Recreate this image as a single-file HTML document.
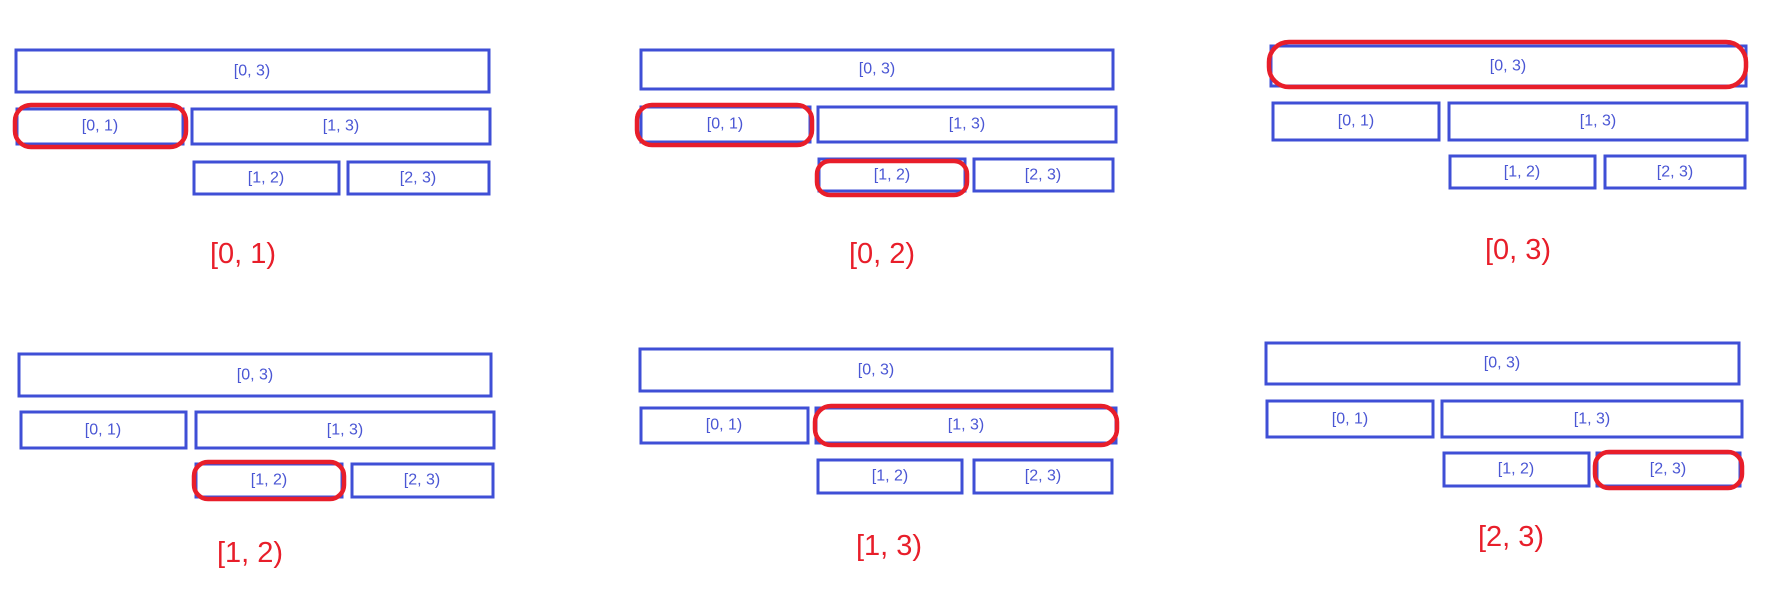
<!DOCTYPE html>
<html><head><meta charset="utf-8"><style>
html,body{margin:0;padding:0;background:#fff;}
svg{display:block;}
.b{fill:none;stroke:#3f4fd6;stroke-width:3;}
.r{fill:none;stroke:#e81e2a;stroke-width:4.5;}
.t{font-family:"Liberation Sans",sans-serif;font-size:16px;fill:#4a56d4;text-anchor:middle;dominant-baseline:central;}
.L{font-family:"Liberation Sans",sans-serif;font-size:29px;fill:#e81e2a;text-anchor:middle;dominant-baseline:central;}
</style></head><body>
<svg width="1787" height="590" viewBox="0 0 1787 590">
<!-- Panel 1 -->
<rect class="b" x="16" y="50" width="473" height="42"/><text class="t" x="252" y="71">[0, 3)</text>
<rect class="b" x="17" y="109" width="166" height="35"/><text class="t" x="100" y="126">[0, 1)</text>
<rect class="b" x="192" y="109" width="298" height="35"/><text class="t" x="341" y="126">[1, 3)</text>
<rect class="b" x="194" y="162" width="145" height="32"/><text class="t" x="266" y="178">[1, 2)</text>
<rect class="b" x="348" y="162" width="141" height="32"/><text class="t" x="418" y="178">[2, 3)</text>
<rect class="r" x="15" y="105" width="171" height="42" rx="16"/>
<text class="L" x="243" y="254">[0, 1)</text>
<!-- Panel 2 -->
<rect class="b" x="641" y="50" width="472" height="39"/><text class="t" x="877" y="69">[0, 3)</text>
<rect class="b" x="641" y="107" width="169" height="35"/><text class="t" x="725" y="124">[0, 1)</text>
<rect class="b" x="818" y="107" width="298" height="35"/><text class="t" x="967" y="124">[1, 3)</text>
<rect class="b" x="819" y="159" width="146" height="32"/><text class="t" x="892" y="175">[1, 2)</text>
<rect class="b" x="974" y="159" width="139" height="32"/><text class="t" x="1043" y="175">[2, 3)</text>
<rect class="r" x="637" y="105" width="175" height="40" rx="15"/>
<rect class="r" x="817" y="161" width="150" height="34" rx="13"/>
<text class="L" x="882" y="254">[0, 2)</text>
<!-- Panel 3 -->
<rect class="b" x="1271" y="46" width="475" height="40"/><text class="t" x="1508" y="66">[0, 3)</text>
<rect class="b" x="1273" y="103" width="166" height="37"/><text class="t" x="1356" y="121">[0, 1)</text>
<rect class="b" x="1449" y="103" width="298" height="37"/><text class="t" x="1598" y="121">[1, 3)</text>
<rect class="b" x="1450" y="156" width="145" height="32"/><text class="t" x="1522" y="172">[1, 2)</text>
<rect class="b" x="1605" y="156" width="140" height="32"/><text class="t" x="1675" y="172">[2, 3)</text>
<rect class="r" x="1269" y="42" width="477" height="45" rx="20"/>
<text class="L" x="1518" y="250">[0, 3)</text>
<!-- Panel 4 -->
<rect class="b" x="19" y="354" width="472" height="42"/><text class="t" x="255" y="375">[0, 3)</text>
<rect class="b" x="21" y="412" width="165" height="36"/><text class="t" x="103" y="430">[0, 1)</text>
<rect class="b" x="196" y="412" width="298" height="36"/><text class="t" x="345" y="430">[1, 3)</text>
<rect class="b" x="196" y="464" width="146" height="33"/><text class="t" x="269" y="480">[1, 2)</text>
<rect class="b" x="352" y="464" width="141" height="33"/><text class="t" x="422" y="480">[2, 3)</text>
<rect class="r" x="194" y="462" width="150" height="37" rx="14"/>
<text class="L" x="250" y="553">[1, 2)</text>
<!-- Panel 5 -->
<rect class="b" x="640" y="349" width="472" height="42"/><text class="t" x="876" y="370">[0, 3)</text>
<rect class="b" x="641" y="408" width="167" height="35"/><text class="t" x="724" y="425">[0, 1)</text>
<rect class="b" x="816" y="408" width="300" height="35"/><text class="t" x="966" y="425">[1, 3)</text>
<rect class="b" x="818" y="460" width="144" height="33"/><text class="t" x="890" y="476">[1, 2)</text>
<rect class="b" x="974" y="460" width="138" height="33"/><text class="t" x="1043" y="476">[2, 3)</text>
<rect class="r" x="815" y="406" width="302" height="39" rx="16"/>
<text class="L" x="889" y="546">[1, 3)</text>
<!-- Panel 6 -->
<rect class="b" x="1266" y="343" width="473" height="41"/><text class="t" x="1502" y="363">[0, 3)</text>
<rect class="b" x="1267" y="401" width="166" height="36"/><text class="t" x="1350" y="419">[0, 1)</text>
<rect class="b" x="1442" y="401" width="300" height="36"/><text class="t" x="1592" y="419">[1, 3)</text>
<rect class="b" x="1444" y="453" width="145" height="33"/><text class="t" x="1516" y="469">[1, 2)</text>
<rect class="b" x="1597" y="453" width="143" height="33"/><text class="t" x="1668" y="469">[2, 3)</text>
<rect class="r" x="1595" y="452" width="147" height="36" rx="14"/>
<text class="L" x="1511" y="537">[2, 3)</text>
</svg>
</body></html>
